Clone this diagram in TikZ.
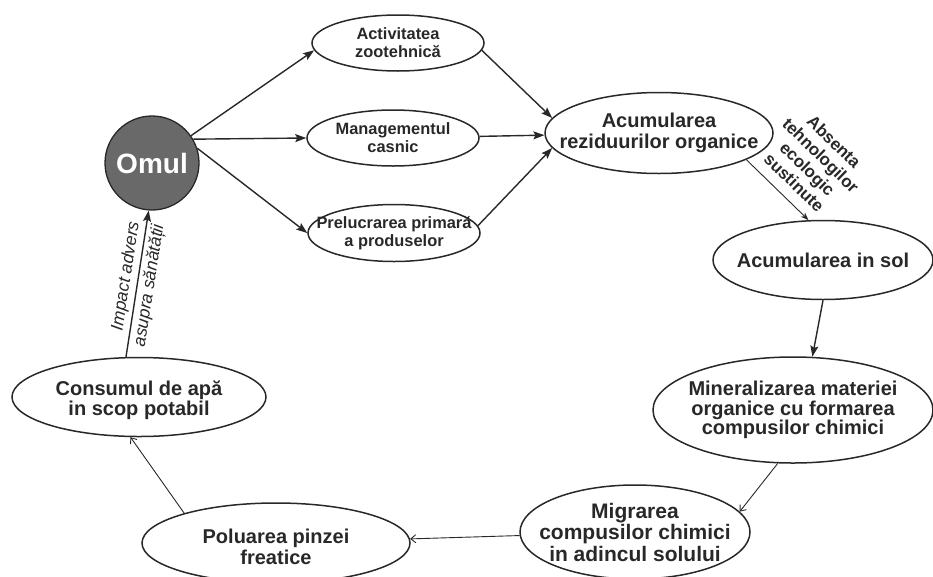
\documentclass[tikz,border=0pt]{standalone}
\usepackage{fontspec}
\setmainfont{Liberation Sans}
\usetikzlibrary{shapes.geometric,arrows.meta}
\definecolor{ink}{RGB}{40,40,40}
\definecolor{omgray}{RGB}{105,105,105}
\newcommand{\fs}[2]{\fontsize{#1}{#2}\selectfont}

\begin{document}
\begin{tikzpicture}[x=1pt, y=-1pt,
	blob/.style = {draw=ink, ellipse, line width=1.5pt, inner sep=0pt},
	txt/.style = {align=center, text=ink, font=\bfseries\fs{16.4}{18}},
	big/.style = {txt, font=\bfseries\fs{20}{20.5}},
	main/.style = {draw=ink, line width=1.4pt, -{Stealth[length=11pt,width=8pt,inset=2pt]}},
	weak/.style = {draw=ink, line width=0.9pt, -{Straight Barb[length=5pt,width=8pt]}},
	lbl/.style = {text=ink, align=center}]
	\useasboundingbox (0,0) rectangle (933,576);

	\node[circle, fill=omgray, draw=ink, line width=1.3pt, minimum size=94pt, text=white, font=\bfseries\fs{28}{30}] (omul) at (152,163) {Omul};

	\node[blob, minimum width=172, minimum height=56] (act) at (398,43) {};
	\node[txt] (act-t) at (act) {Activitatea\\zootehnică};
	\node[blob, minimum width=172, minimum height=56] (man) at (393,138) {};
	\node[txt] (man-t) at (man) {Managementul\\casnic};
	\node[blob, minimum width=172, minimum height=57] (prel) at (394,233) {};
	\node[txt] (prel-t) at (prel) {Prelucrarea primară\\a produselor};

	\node[blob, minimum width=228, minimum height=81] (acc) at (659,133) {};
	\node[big] (acc-t) at (acc) {Acumularea\\reziduurilor organice};
	\node[blob, minimum width=220, minimum height=79] (sol) at (823,260) {};
	\node[big] (sol-t) at (sol) {Acumularea in sol};
	\node[blob, minimum width=280, minimum height=106] (min) at (793,410) {};
	\node[txt, font=\bfseries\fs{20}{19.5}] (min-t) at (min) {Mineralizarea materiei\\organice cu formarea\\compusilor chimici};
	\node[blob, minimum width=230, minimum height=94] (mig) at (635,532) {};
	\node[txt, font=\bfseries\fs{21}{21.5}] (mig-t) at (mig) {Migrarea\\compusilor chimici\\in adincul solului};
	\node[blob, minimum width=268, minimum height=80] (pol) at (276,543) {};
	\node[big] (pol-t) at ([yshift=-4pt]pol) {Poluarea pinzei\\freatice};
	\node[blob, minimum width=254, minimum height=79] (cons) at (139,397) {};
	\node[big] (cons-t) at ([yshift=-3pt]cons) {Consumul de apă\\in scop potabil};

	\draw[main] (omul.35) -- (act.185);
	\draw[main] (omul.30) -- (man.west);
	\draw[main] (omul.18) -- (prel.west);
	\draw[main] (act.-5) -- (acc.172);
	\draw[main] (man) -- (acc);
	\draw[main] (prel.5) -- (acc.188);
	\draw[weak, -{Stealth[length=8pt,width=6pt]}] (acc.-17) -- node[lbl, sloped, above=7pt, pos=0.58, font=\bfseries\fs{17}{19}] (abs) {Absenta\\tehnologilor\\ecologic\\sustinute} (sol.110);
	\draw[main] (sol.south) -- (min.70);
	\draw[weak] (min.254) -- (mig.11);
	\draw[weak] (mig) -- (pol);
	\draw[weak] (pol.162) -- (cons.258);
	\draw[main] (cons.108) -- node[lbl, sloped, above, pos=0.54, font=\itshape\fs{17.5}{18}] (imp) {Impact advers} node[lbl, sloped, below, pos=0.5, font=\itshape\fs{17.5}{18}] (asu) {asupra sănătății} (omul.-94);
\end{tikzpicture}
\end{document}
